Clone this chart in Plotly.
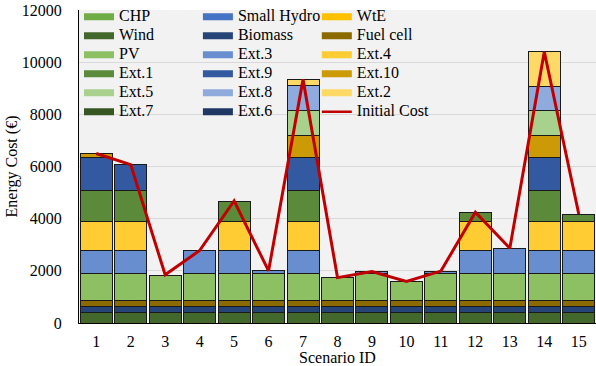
import plotly.graph_objects as go

# Scenario IDs on the x axis
scenarios = [str(i) for i in range(1, 16)]

# Y-axis ticks (€)
y_ticks = [0, 2000, 4000, 6000, 8000, 10000, 12000]

# Stacked cost components per scenario (€), bottom to top
chp = [0, 0, 0, 0, 0, 0, 0, 0, 0, 0, 0, 0, 0, 0, 0]
small_hydro = [0, 0, 0, 0, 0, 0, 0, 0, 0, 0, 0, 0, 0, 0, 0]
wte = [0, 0, 0, 0, 0, 0, 0, 0, 0, 0, 0, 0, 0, 0, 0]
wind = [390, 390, 390, 390, 390, 390, 390, 390, 390, 390, 390, 390, 390, 390, 390]
biomass = [230, 230, 230, 230, 230, 230, 230, 230, 230, 230, 230, 230, 230, 230, 230]
fuel_cell = [255, 255, 255, 255, 255, 255, 255, 255, 255, 255, 255, 255, 255, 255, 255]
pv = [1020, 1020, 955, 1020, 1020, 1020, 1020, 865, 1020, 715, 1020, 1020, 1020, 1020, 1020]
ext3 = [895, 895, 0, 867, 895, 115, 895, 0, 80, 0, 97, 895, 945, 895, 895]
ext4 = [1090, 1090, 0, 0, 1090, 0, 1090, 0, 0, 0, 0, 1090, 30, 1090, 1090]
ext1 = [1200, 1200, 0, 0, 790, 0, 1200, 0, 0, 0, 0, 367, 0, 1200, 297]
ext9 = [1250, 990, 0, 0, 0, 0, 1250, 0, 0, 0, 0, 0, 0, 1250, 0]
ext10 = [170, 0, 0, 0, 0, 0, 870, 0, 0, 0, 0, 0, 0, 870, 0]
ext5 = [0, 0, 0, 0, 0, 0, 960, 0, 0, 0, 0, 0, 0, 965, 0]
ext8 = [0, 0, 0, 0, 0, 0, 934, 0, 0, 0, 0, 0, 0, 919, 0]
ext2 = [0, 0, 0, 0, 0, 0, 246, 0, 0, 0, 0, 0, 0, 1316, 0]
ext7 = [0, 0, 0, 0, 0, 0, 0, 0, 0, 0, 0, 0, 0, 0, 0]
ext6 = [0, 0, 0, 0, 0, 0, 0, 0, 0, 0, 0, 0, 0, 0, 0]

# Initial cost line (€)
initial_cost = [6500, 6070, 1850, 2780, 4680, 2000, 9340, 1740, 1970, 1590, 1990, 4250, 2870, 10400, 4180]

FONT = "Liberation Serif"
TEXT_SIZE = 16

# (name, values, colour, legend column) in stacking order
series = [
    ("CHP", chp, "#70AD47", "legend"),
    ("Small Hydro", small_hydro, "#4472C4", "legend2"),
    ("WtE", wte, "#FFC000", "legend3"),
    ("Wind", wind, "#43682B", "legend"),
    ("Biomass", biomass, "#264478", "legend2"),
    ("Fuel cell", fuel_cell, "#8B6A00", "legend3"),
    ("PV", pv, "#8DC063", "legend"),
    ("Ext.3", ext3, "#698ED0", "legend2"),
    ("Ext.4", ext4, "#FFCD33", "legend3"),
    ("Ext.1", ext1, "#5A8A3A", "legend"),
    ("Ext.9", ext9, "#3359A0", "legend2"),
    ("Ext.10", ext10, "#CC9A06", "legend3"),
    ("Ext.5", ext5, "#A9D18E", "legend"),
    ("Ext.8", ext8, "#8FAADC", "legend2"),
    ("Ext.2", ext2, "#FFD966", "legend3"),
    ("Ext.7", ext7, "#375623", "legend"),
    ("Ext.6", ext6, "#203864", "legend2"),
]


def serif(text, size=TEXT_SIZE):
    # explicit serif face and size for a text run
    return f'<span style="font-family:{FONT};font-size:{size}px">{text}</span>'


fig = go.Figure()

for name, vals, color, _ in series:
    fig.add_trace(go.Bar(
        x=scenarios, y=vals, name=name, showlegend=False,
        marker=dict(color=color, line=dict(color="#1a1a1a", width=1)),
    ))

fig.add_trace(go.Scatter(
    x=scenarios, y=initial_cost, mode="lines", name="Initial Cost",
    line=dict(color="#C00000", width=3), showlegend=False,
))

# Legend keys: wide colour swatches arranged in three columns
for name, _, color, leg in series:
    fig.add_trace(go.Scatter(
        x=[None], y=[None], mode="lines", name=serif(name), legend=leg,
        line=dict(color=color, width=7),
    ))
fig.add_trace(go.Scatter(
    x=[None], y=[None], mode="lines", name=serif("Initial Cost"), legend="legend3",
    line=dict(color="#C00000", width=2.5),
))

# rows are spaced from a small base font; the labels themselves are larger
legend_style = dict(
    orientation="v", yanchor="top", xanchor="left", y=1.025, traceorder="normal",
    bgcolor="rgba(0,0,0,0)", borderwidth=0, tracegroupgap=0,
    font=dict(family=FONT, size=12, color="#000"), itemwidth=30,
)

fig.update_layout(
    width=596, height=366,
    margin=dict(l=79, r=0, t=10, b=43, autoexpand=False),
    barmode="stack", bargap=0.07,
    paper_bgcolor="white", plot_bgcolor="#F2F2F2",
    font=dict(family=FONT, size=TEXT_SIZE, color="#000"),
    legend=dict(legend_style, x=0.0),
    legend2=dict(legend_style, x=0.23),
    legend3=dict(legend_style, x=0.46),
    xaxis=dict(
        type="category", showgrid=False, ticks="",
        tickvals=scenarios, ticktext=[serif(s) for s in scenarios],
        showline=True, linecolor="#000", linewidth=1, ticklabelstandoff=4,
        title=dict(text=serif("Scenario ID"), standoff=0,
                   font=dict(family=FONT, size=TEXT_SIZE)),
        tickfont=dict(family=FONT, size=TEXT_SIZE),
    ),
    yaxis=dict(
        range=[0, 12000], tickvals=y_ticks, ticktext=[serif(str(v)) for v in y_ticks],
        showgrid=True, gridcolor="#D9D9D9", gridwidth=1,
        zeroline=False, showline=True, linecolor="#000", linewidth=1, ticks="",
        ticklabelstandoff=13,
        title=dict(text=serif("Energy Cost (€)"), standoff=0,
                   font=dict(family=FONT, size=TEXT_SIZE)),
        tickfont=dict(family=FONT, size=TEXT_SIZE),
    ),
)

fig.write_html("out.html")
